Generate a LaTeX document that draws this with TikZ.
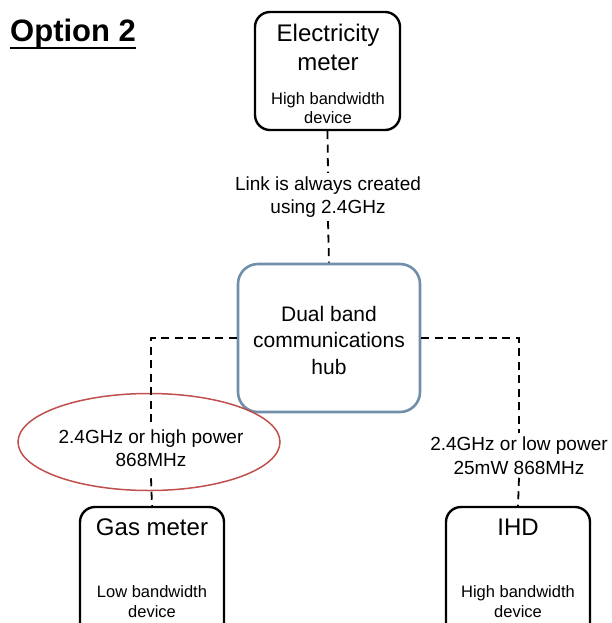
\documentclass[tikz,border=0pt]{standalone}
\usepackage{fontspec}
\setmainfont{Liberation Sans}
\usetikzlibrary{shapes.geometric}
\definecolor{hubblue}{HTML}{6F8FAA}
\definecolor{ellred}{HTML}{C0504D}
\tikzset{
  devbox/.style={draw=black, line width=2.4pt, rounded corners=15pt, inner sep=0pt},
  hubbox/.style={draw=hubblue, line width=2.6pt, rounded corners=20pt, inner sep=0pt},
  link/.style={draw=black, line width=1.8pt, dash pattern=on 8pt off 5.5pt},
  lbl/.style={align=center, font=\fontsize{19}{23.5}\selectfont},
  bigtxt/.style={align=center, font=\fontsize{24}{29}\selectfont, inner sep=0pt},
  smalltxt/.style={align=center, font=\fontsize{16.5}{19.5}\selectfont, inner sep=0pt},
  hubtxt/.style={align=center, font=\fontsize{21}{26.5}\selectfont, inner sep=0pt},
}
\begin{document}
\begin{tikzpicture}[x=1pt,y=-1pt]
\useasboundingbox (0,0) rectangle (611,623);
\clip (0,0) rectangle (611,623);
\fill[white] (0,0) rectangle (611,623);
% title
\node[anchor=base west, inner sep=0pt, font=\fontsize{31}{36}\selectfont\bfseries] (title) at (10,42) {Option 2};
\draw[line width=2.6pt] (title.base west) ++(0,6) coordinate (ul1) -- (ul1 -| title.base east);
% boxes
\node[devbox, minimum width=145pt, minimum height=118pt] (elec) at (327.5,71) {};
\node[hubbox, minimum width=182pt, minimum height=148pt] (hub) at (329,338) {};
\node[devbox, minimum width=144pt, minimum height=133pt] (gas) at (152,573.5) {};
\node[devbox, minimum width=144pt, minimum height=133pt] (ihd) at (518,573.5) {};
% box texts
\node[bigtxt] (elect) at (328,47) {Electricity\\meter};
\node[smalltxt] (elecs) at (328,108) {High bandwidth\\device};
\node[hubtxt] (hubt) at (329,340) {Dual band\\communications\\hub};
\node[bigtxt, anchor=base] (gast) at (152,535) {Gas meter};
\node[smalltxt] (gass) at (152,601.5) {Low bandwidth\\device};
\node[bigtxt, anchor=base] (ihdt) at (518,535) {IHD};
\node[smalltxt] (ihds) at (518,601.5) {High bandwidth\\device};
% labels
\node[lbl] (ll) at (328,197) {Link is always created\\using 2.4GHz};
\node[lbl] (gl) at (151,448) {2.4GHz or high power\\868MHz};
\node[lbl] (rl) at (519,455.5) {2.4GHz or low power\\25mW 868MHz};
\node[draw=ellred, line width=1.5pt, ellipse, minimum width=262pt, minimum height=97pt] (ell) at (149,442) {};
% connectors
\draw[link] (elec.south) -- (ll.north);
\draw[link] (ll.south) -- (hub.north);
\draw[link] (hub.west) -| (gl.north);
\draw[link] (gl.south) ++(0,8) coordinate (gls) -- (gas.north);
\draw[link] (hub.east) -| (rl.north);
\draw[link] (rl.south) -- (ihd.north);
\end{tikzpicture}
\end{document}
